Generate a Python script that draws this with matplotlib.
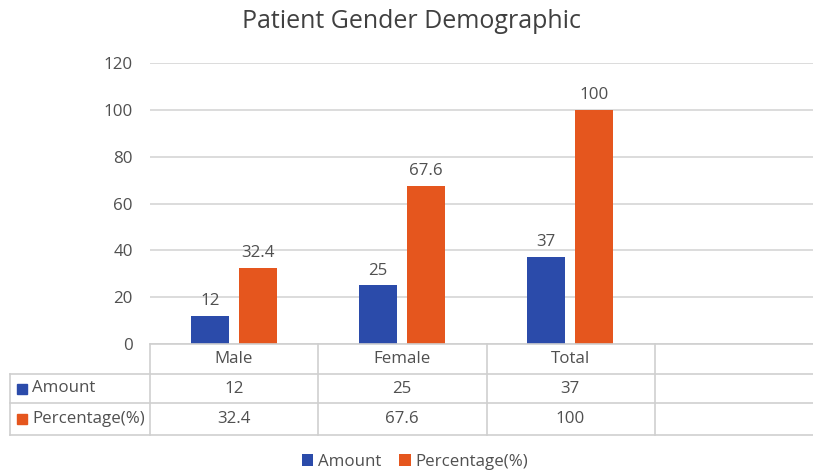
import matplotlib.pyplot as plt
from matplotlib.lines import Line2D
from matplotlib.patches import Rectangle
import numpy as np

plt.rcParams['font.family'] = ['Open Sans', 'DejaVu Sans']

categories = ["Male", "Female", "Total"]
amount = [12, 25, 37]
percentage = [32.4, 67.6, 100]
amount_labels = ["12", "25", "37"]
percentage_labels = ["32.4", "67.6", "100"]
series_names = ["Amount", "Percentage(%)"]
yticks = [0, 20, 40, 60, 80, 100, 120]

BLUE = "#2B4BAA"
ORANGE = "#E5561E"
TEXT = "#505050"
GRID = "#D9D9D9"
TLINE = "#CFCFCF"
FS = 12.2

W, H = 813, 473
fig = plt.figure(figsize=(W / 100, H / 100), dpi=100)


def fx(px):
    return px / W


def fy(py):
    return 1 - py / H


# plot area: 4 category slots of ~168 px, the last one left empty
x0, x1, ytop, ybot = 150, 822, 63, 344
ax = fig.add_axes([fx(x0), fy(ybot), fx(x1 - x0), (ybot - ytop) / H])
ax.set_xlim(-0.5, 3.5)
ax.set_ylim(0, 120)
ax.set_yticks(yticks)
ax.set_xticks([])
for s in ax.spines.values():
    s.set_visible(False)
ax.yaxis.grid(True, color=GRID, linewidth=1.3)
ax.set_axisbelow(True)
ax.tick_params(axis='y', length=0, pad=12.5, labelsize=FS, labelcolor=TEXT)

x = np.arange(len(categories))
bw = 38 / 168
off = 24 / 168
b1 = ax.bar(x - off, amount, bw, color=BLUE, label=series_names[0])
b2 = ax.bar(x + off, percentage, bw, color=ORANGE, label=series_names[1])
for bars, labs in ((b1, amount_labels), (b2, percentage_labels)):
    for r, t in zip(bars, labs):
        ax.annotate(t, (r.get_x() + r.get_width() / 2, r.get_height()),
                    xytext=(0, 5), textcoords='offset points',
                    ha='center', va='bottom', fontsize=FS, color=TEXT)

fig.text(fx(411), fy(22), "Patient Gender Demographic", ha='center', va='center',
         fontsize=18, color="#404040")

# data table below the plot
rows_y = [344, 374, 403, 435]
col_x = [150, 318, 487, 655]


def hline(y, xa, xb):
    fig.add_artist(Line2D([fx(xa), fx(xb)], [fy(y), fy(y)], color=TLINE, lw=1.2))


def vline(x_, ya, yb):
    fig.add_artist(Line2D([fx(x_), fx(x_)], [fy(ya), fy(yb)], color=TLINE, lw=1.2))


hline(rows_y[0], 150, W)
for y in rows_y[1:]:
    hline(y, 10, W)
vline(10, rows_y[1], rows_y[3])
for cx in col_x:
    vline(cx, rows_y[0], rows_y[3])

trans = ax.get_xaxis_transform()
yc = [(rows_y[0] + rows_y[1]) / 2, (rows_y[1] + rows_y[2]) / 2, (rows_y[2] + rows_y[3]) / 2]
for i, c in enumerate(categories):
    for txt, yy in zip([c, amount_labels[i], percentage_labels[i]], yc):
        ax.text(i, (ybot - yy) / (ybot - ytop), txt, transform=trans, ha='center',
                va='center', fontsize=FS, color=TEXT, clip_on=False)

for name, col, yy in ((series_names[0], BLUE, yc[1]), (series_names[1], ORANGE, yc[2])):
    fig.add_artist(Rectangle((fx(17), fy(yy + 5)), fx(10), 10 / H, color=col))
    fig.text(fx(32), fy(yy), name, ha='left', va='center', fontsize=FS, color=TEXT)

fig.legend(handles=[b1, b2], labels=series_names, loc='center', bbox_to_anchor=(fx(415), fy(462)),
           ncol=2, frameon=False, fontsize=FS, labelcolor=TEXT, handlelength=0.7,
           handleheight=0.7, handletextpad=0.3, columnspacing=1.0)

fig.savefig("out.png", dpi=100)
